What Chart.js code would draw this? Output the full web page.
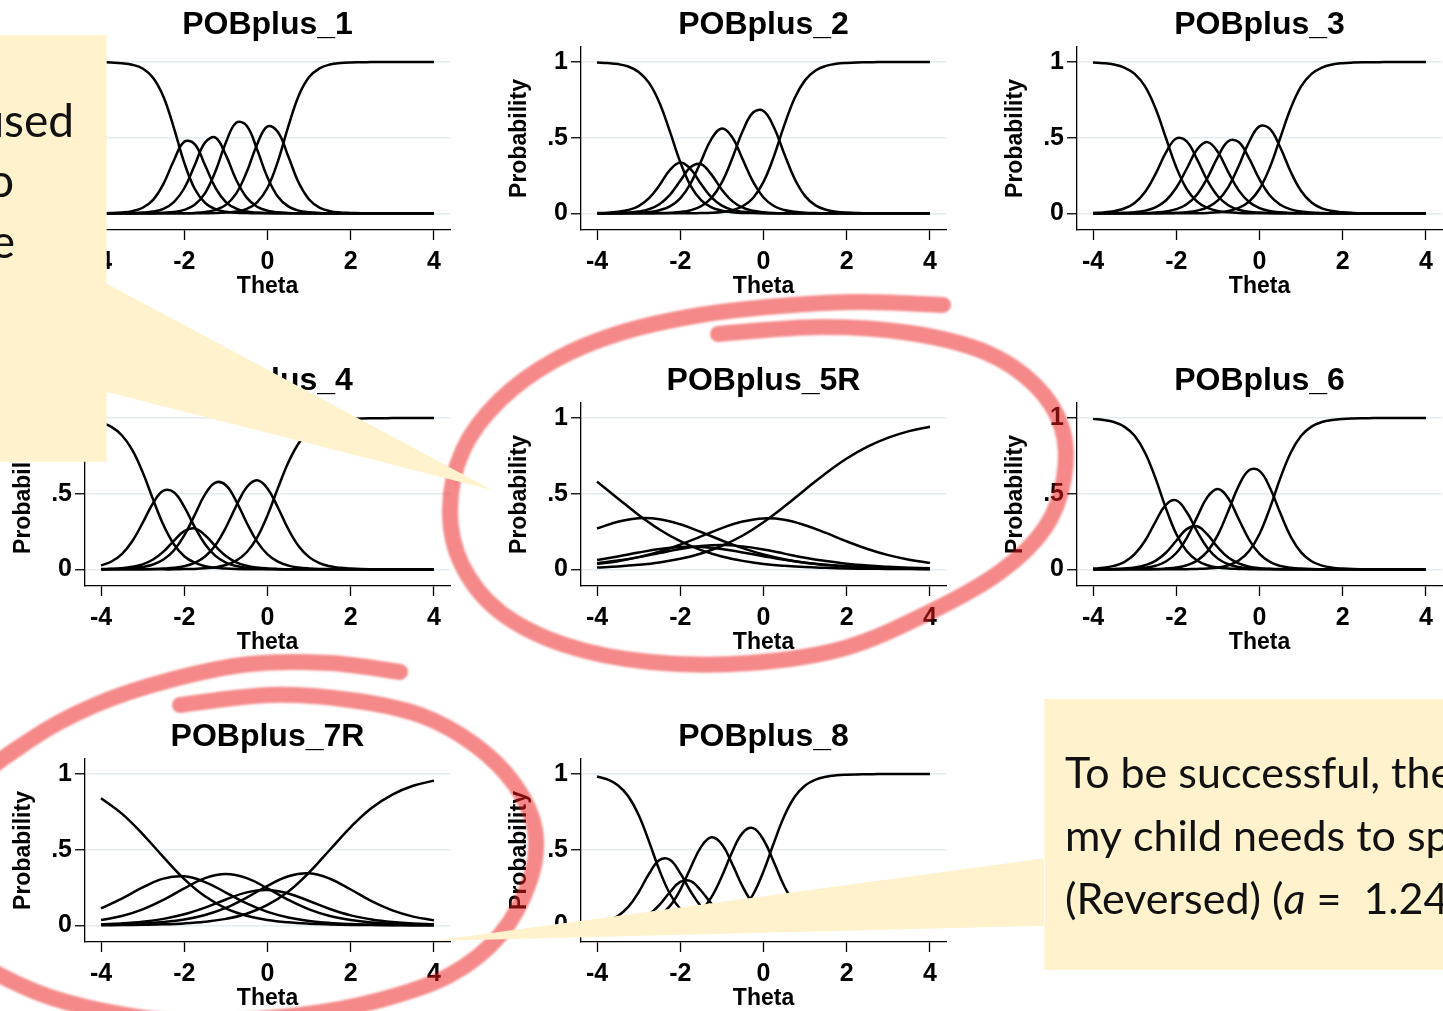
<!DOCTYPE html>
<html>
<head>
<meta charset="utf-8">
<script src="https://cdn.jsdelivr.net/npm/chart.js@4.4.1/dist/chart.umd.min.js"></script>
<style>
  body { margin: 0; width: 1443px; height: 1011px; overflow: hidden; background: #fff; position: relative; }
  canvas.panel { position: absolute; }
  #overlay { position: absolute; left: 0; top: 0; z-index: 10; }
</style>
</head>
<body>
<canvas id="overlay" width="1443" height="1011"></canvas>
<script>
// theta grids (fine for the steep items, coarse for the flat reversed ones)
const theta = [-4, -3.75, -3.5, -3.25, -3, -2.75, -2.5, -2.25, -2, -1.75, -1.5,
               -1.25, -1, -0.75, -0.5, -0.25, 0, 0.25, 0.5, 0.75, 1, 1.25,
               1.5, 1.75, 2, 2.25, 2.5, 2.75, 3, 3.25, 3.5, 3.75, 4];
const thetaCoarse = [-4, -3.5, -3, -2.5, -2, -1.5, -1, -0.5, 0, 0.5, 1, 1.5, 2, 2.5, 3, 3.5, 4];

const xTickValues = [-4, -2, 0, 2, 4];
const yTickValues = [0, 0.5, 1];
const yTickLabels = ["0", ".5", "1"];
const panelTitles = ["POBplus_1", "POBplus_2", "POBplus_3", "POBplus_4", "POBplus_5R", "POBplus_6", "POBplus_7R", "POBplus_8"];

// POBplus_1
const pob1Cat1 = [.999,.997,.993,.983,.958,.897,.771,.566,.335,.163,.070, .028,.011,.004,.002,.001,0,0,0,0,0,0, 0,0,0,0,0,0,0,0,0,0,0];
const pob1Cat2 = [.001,.002,.006,.015,.037,.089,.195,.350,.474,.458,.318, .169,.075,.031,.012,.005,.002,.001,0,0,0,0, 0,0,0,0,0,0,0,0,0,0,0];
const pob1Cat3 = [0,0,.001,.002,.005,.012,.030,.074,.166,.318,.469, .501,.385,.221,.104,.044,.018,.007,.003,.001,0,0, 0,0,0,0,0,0,0,0,0,0,0];
const pob1Cat4 = [0,0,0,0,.001,.001,.004,.009,.023,.057,.134, .278,.468,.600,.580,.422,.237,.110,.046,.018,.007,.003, .001,0,0,0,0,0,0,0,0,0,0];
const pob1Cat5 = [0,0,0,0,0,0,0,.001,.001,.003,.009, .023,.056,.132,.273,.456,.575,.538,.376,.202,.092,.038, .015,.006,.003,.001,0,0,0,0,0,0,0];
const pob1Cat6 = [0,0,0,0,0,0,0,0,0,0,.001, .002,.005,.012,.029,.073,.169,.344,.575,.778,.901,.959, .984,.994,.998,.999,1,1,1,1,1,1,1];

// POBplus_2
const pob2Cat1 = [.998,.994,.987,.971,.935,.863,.732,.542,.339,.182,.088, .040,.018,.008,.003,.002,.001,0,0,0,0,0, 0,0,0,0,0,0,0,0,0,0,0];
const pob2Cat2 = [.002,.004,.010,.022,.048,.100,.186,.286,.337,.293,.194, .105,.051,.023,.010,.005,.002,.001,0,0,0,0, 0,0,0,0,0,0,0,0,0,0,0];
const pob2Cat3 = [0,.001,.002,.005,.012,.028,.060,.122,.215,.306,.325, .256,.156,.081,.038,.017,.008,.003,.001,.001,0,0, 0,0,0,0,0,0,0,0,0,0,0];
const pob2Cat4 = [0,0,.001,.002,.004,.009,.021,.046,.099,.198,.345, .493,.561,.503,.357,.208,.105,.049,.022,.010,.004,.002, .001,0,0,0,0,0,0,0,0,0,0];
const pob2Cat5 = [0,0,0,0,0,.001,.002,.004,.009,.021,.047, .102,.205,.364,.544,.667,.677,.569,.393,.227,.114,.053, .024,.011,.005,.002,.001,0,0,0,0,0,0];
const pob2Cat6 = [0,0,0,0,0,0,0,0,0,.001,.002, .004,.009,.021,.047,.102,.208,.377,.583,.763,.881,.945, .975,.989,.995,.998,.999,1,1,1,1,1,1];

// POBplus_3
const pob3Cat1 = [.997,.993,.984,.964,.922,.839,.695,.500,.305,.161,.078, .036,.016,.007,.003,.001,.001,0,0,0,0,0, 0,0,0,0,0,0,0,0,0,0,0];
const pob3Cat2 = [.003,.006,.014,.032,.069,.141,.259,.401,.495,.476,.357, .216,.113,.054,.024,.011,.005,.002,.001,0,0,0, 0,0,0,0,0,0,0,0,0,0,0];
const pob3Cat3 = [0,.001,.002,.004,.008,.018,.040,.085,.169,.295,.422, .471,.405,.273,.152,.075,.035,.016,.007,.003,.002,.001, 0,0,0,0,0,0,0,0,0,0,0];
const pob3Cat4 = [0,0,0,0,.001,.002,.006,.012,.028,.060,.125, .235,.374,.477,.472,.363,.224,.118,.057,.026,.012,.005, .002,.001,0,0,0,0,0,0,0,0,0];
const pob3Cat5 = [0,0,0,0,0,0,.001,.002,.004,.008,.018, .040,.086,.174,.313,.472,.575,.559,.435,.275,.148,.072, .033,.015,.007,.003,.001,.001,0,0,0,0,0];
const pob3Cat6 = [0,0,0,0,0,0,0,0,0,.001,.001, .003,.007,.016,.036,.078,.161,.305,.500,.695,.839,.922, .964,.984,.993,.997,.999,.999,1,1,1,1,1];

// POBplus_4
const pob4Cat1 = [.972,.942,.887,.790,.643,.463,.293,.166,.087,.044,.021, .010,.005,.002,.001,.001,0,0,0,0,0,0, 0,0,0,0,0,0,0,0,0,0,0];
const pob4Cat2 = [.026,.052,.101,.186,.307,.437,.520,.510,.413,.281,.166, .089,.045,.022,.011,.005,.003,.001,.001,0,0,0, 0,0,0,0,0,0,0,0,0,0,0];
const pob4Cat3 = [.002,.004,.008,.017,.033,.065,.117,.189,.253,.270,.226, .153,.089,.047,.024,.012,.006,.003,.001,.001,0,0, 0,0,0,0,0,0,0,0,0,0,0];
const pob4Cat4 = [.001,.002,.004,.008,.016,.032,.065,.125,.224,.359,.496, .574,.556,.450,.308,.183,.099,.051,.025,.012,.006,.003, .002,.001,0,0,0,0,0,0,0,0,0];
const pob4Cat5 = [0,0,0,.001,.001,.002,.005,.010,.021,.043,.085, .160,.277,.420,.543,.589,.535,.409,.266,.153,.081,.041, .020,.010,.005,.002,.001,.001,0,0,0,0,0];
const pob4Cat6 = [0,0,0,0,0,0,0,0,.002,.003,.007, .014,.029,.058,.113,.210,.357,.537,.707,.834,.913,.956, .979,.990,.995,.998,.999,.999,1,1,1,1,1];

// POBplus_5R (coarse grid)
const pob5Cat1 = [.580,.469,.360,.264,.186,.127,.085,.056,.036,.024,.015,.010,.006,.004,.003,.002,.001];
const pob5Cat2 = [.270,.315,.338,.332,.298,.247,.191,.140,.098,.067,.044,.029,.019,.012,.008,.005,.003];
const pob5Cat3 = [.062,.085,.111,.134,.148,.148,.135,.112,.087,.063,.044,.030,.020,.013,.008,.005,.004];
const pob5Cat4 = [.040,.058,.081,.108,.135,.154,.161,.152,.131,.104,.077,.055,.037,.025,.017,.011,.007];
const pob5Cat5 = [.036,.054,.081,.117,.164,.218,.273,.316,.337,.328,.292,.241,.185,.135,.094,.064,.042];
const pob5Cat6 = [.012,.019,.030,.046,.070,.105,.156,.224,.312,.415,.527,.636,.733,.811,.871,.914,.943];

// POBplus_6
const pob6Cat1 = [.995,.988,.974,.944,.883,.771,.603,.405,.234,.121,.058, .027,.012,.006,.003,.001,0,0,0,0,0,0, 0,0,0,0,0,0,0,0,0,0,0];
const pob6Cat2 = [.005,.010,.023,.048,.100,.189,.314,.427,.456,.379,.252, .141,.071,.034,.016,.007,.003,.002,.001,0,0,0, 0,0,0,0,0,0,0,0,0,0,0];
const pob6Cat3 = [.001,.001,.003,.006,.012,.027,.056,.110,.189,.266,.285, .230,.145,.078,.039,.018,.008,.004,.002,.001,0,0, 0,0,0,0,0,0,0,0,0,0,0];
const pob6Cat4 = [0,0,.001,.002,.005,.011,.024,.052,.108,.207,.345, .478,.531,.470,.333,.197,.102,.049,.023,.011,.005,.002, .001,0,0,0,0,0,0,0,0,0,0];
const pob6Cat5 = [0,0,0,0,0,.001,.002,.006,.012,.027,.058, .119,.228,.386,.552,.656,.651,.540,.372,.217,.112,.054, .025,.011,.005,.002,.001,0,0,0,0,0,0];
const pob6Cat6 = [0,0,0,0,0,0,0,0,0,.001,.003, .006,.012,.027,.058,.121,.234,.405,.603,.771,.883,.944, .974,.988,.995,.998,.999,1,1,1,1,1,1];

// POBplus_7R (coarse grid)
const pob7Cat1 = [.841,.739,.604,.451,.306,.192,.113,.064,.036,.020,.011,.006,.003,.002,.001,0,0];
const pob7Cat2 = [.113,.177,.251,.309,.324,.286,.217,.145,.089,.052,.029,.016,.009,.005,.003,.001,.001];
const pob7Cat3 = [.035,.062,.106,.169,.245,.312,.339,.312,.245,.169,.106,.062,.035,.019,.011,.006,.003];
const pob7Cat4 = [.007,.013,.024,.043,.073,.117,.171,.218,.234,.211,.161,.108,.066,.039,.022,.012,.007];
const pob7Cat5 = [.004,.007,.012,.022,.039,.069,.116,.184,.261,.325,.344,.308,.237,.160,.099,.058,.033];
const pob7Cat6 = [.001,.002,.004,.007,.013,.024,.043,.077,.135,.224,.350,.500,.650,.776,.865,.923,.957];

// POBplus_8
const pob8Cat1 = [.984,.965,.927,.854,.730,.554,.364,.209,.108,.053,.025, .012,.005,.003,.001,.001,0,0,0,0,0,0, 0,0,0,0,0,0,0,0,0,0,0];
const pob8Cat2 = [.014,.030,.062,.122,.219,.341,.432,.434,.345,.224,.125, .063,.031,.014,.007,.003,.002,.001,0,0,0,0, 0,0,0,0,0,0,0,0,0,0,0];
const pob8Cat3 = [.002,.004,.008,.017,.036,.072,.135,.219,.288,.293,.229, .144,.078,.039,.019,.009,.004,.002,.001,.001,0,0, 0,0,0,0,0,0,0,0,0,0,0];
const pob8Cat4 = [.001,.001,.003,.007,.014,.031,.064,.127,.235,.381,.519, .582,.536,.405,.256,.141,.072,.034,.016,.008,.004,.002, .001,0,0,0,0,0,0,0,0,0,0];
const pob8Cat5 = [0,0,0,.001,.001,.002,.005,.011,.023,.048,.097, .187,.325,.487,.612,.643,.566,.417,.259,.142,.071,.034, .016,.008,.004,.002,.001,0,0,0,0,0,0];
const pob8Cat6 = [0,0,0,0,0,0,0,0,.001,.002,.005, .011,.024,.052,.105,.204,.357,.546,.723,.850,.925,.964, .983,.992,.996,.998,.999,1,1,1,1,1,1];

const panels = [
  { title: panelTitles[0], col: 0, row: 0, grid: theta, curves: [pob1Cat1, pob1Cat2, pob1Cat3, pob1Cat4, pob1Cat5, pob1Cat6] },
  { title: panelTitles[1], col: 1, row: 0, grid: theta, curves: [pob2Cat1, pob2Cat2, pob2Cat3, pob2Cat4, pob2Cat5, pob2Cat6] },
  { title: panelTitles[2], col: 2, row: 0, grid: theta, curves: [pob3Cat1, pob3Cat2, pob3Cat3, pob3Cat4, pob3Cat5, pob3Cat6] },
  { title: panelTitles[3], col: 0, row: 1, grid: theta, curves: [pob4Cat1, pob4Cat2, pob4Cat3, pob4Cat4, pob4Cat5, pob4Cat6] },
  { title: panelTitles[4], col: 1, row: 1, grid: thetaCoarse, curves: [pob5Cat1, pob5Cat2, pob5Cat3, pob5Cat4, pob5Cat5, pob5Cat6] },
  { title: panelTitles[5], col: 2, row: 1, grid: theta, curves: [pob6Cat1, pob6Cat2, pob6Cat3, pob6Cat4, pob6Cat5, pob6Cat6] },
  { title: panelTitles[6], col: 0, row: 2, grid: thetaCoarse, curves: [pob7Cat1, pob7Cat2, pob7Cat3, pob7Cat4, pob7Cat5, pob7Cat6] },
  { title: panelTitles[7], col: 1, row: 2, grid: theta, curves: [pob8Cat1, pob8Cat2, pob8Cat3, pob8Cat4, pob8Cat5, pob8Cat6] }
];

const FAMILY = "'Liberation Sans', Arial, sans-serif";

// title above each plot region, centred on the plot area
const panelTitlePlugin = {
  id: "panelTitle",
  afterDraw(chart, args, opts) {
    const { ctx, chartArea } = chart;
    ctx.save();
    ctx.font = "bold 32px " + FAMILY;
    ctx.fillStyle = "#000";
    ctx.textAlign = "center";
    ctx.textBaseline = "alphabetic";
    ctx.fillText(opts.text, (chartArea.left + chartArea.right) / 2, chartArea.top - 13.5);
    ctx.restore();
  }
};

function makePanel(p) {
  const canvas = document.createElement("canvas");
  canvas.className = "panel";
  canvas.width = 470;
  canvas.height = 305;
  canvas.style.left = (-5 + 496 * p.col) + "px";
  canvas.style.top = (356 * p.row) + "px";
  document.body.appendChild(canvas);

  new Chart(canvas, {
    type: "line",
    data: {
      datasets: p.curves.map(vals => ({
        data: vals.map((v, i) => ({ x: p.grid[i], y: v })),
        borderColor: "#000",
        borderWidth: 2.5,
        pointRadius: 0,
        tension: 0.4,
        fill: false
      }))
    },
    options: {
      responsive: false,
      devicePixelRatio: 1,
      animation: false,
      events: [],
      layout: { padding: { top: 47, right: 15, bottom: 0, left: 0 } },
      plugins: {
        legend: { display: false },
        tooltip: { enabled: false },
        panelTitle: { text: p.title }
      },
      scales: {
        x: {
          type: "linear",
          min: -4.385,
          max: 4.385,
          afterBuildTicks: s => { s.ticks = xTickValues.map(v => ({ value: v })); },
          afterFit: s => { s.height = 75; },
          ticks: {
            font: { family: FAMILY, size: 25, weight: "bold" },
            color: "#000",
            padding: 7,
            maxRotation: 0,
            autoSkip: false,
            callback: v => String(v)
          },
          grid: { drawOnChartArea: false, tickLength: 10, tickColor: "#000", tickWidth: 1.3 },
          border: { color: "#000", width: 1.3 },
          title: {
            display: true,
            text: "Theta",
            color: "#000",
            font: { family: FAMILY, size: 23, weight: "bold" },
            padding: { top: 0, bottom: 4.5 }
          }
        },
        y: {
          type: "linear",
          min: -0.11,
          max: 1.1,
          afterBuildTicks: s => { s.ticks = yTickValues.map(v => ({ value: v })); },
          afterFit: s => { s.width = 90; },
          ticks: {
            font: { family: FAMILY, size: 25, weight: "bold" },
            color: "#000",
            padding: 3,
            callback: v => yTickLabels[yTickValues.indexOf(v)]
          },
          grid: { color: "#e4ecef", lineWidth: 1.5, tickLength: 10, tickColor: "#000", tickWidth: 1.3 },
          border: { color: "#000", width: 1.3 },
          title: {
            display: true,
            text: "Probability",
            color: "#000",
            font: { family: FAMILY, size: 23, weight: "bold" },
            padding: { top: 15.2, bottom: 0 }
          }
        }
      }
    },
    plugins: [panelTitlePlugin]
  });
}

panels.forEach(makePanel);

// slide annotations: highlighter rings and the two callouts
const ov = document.getElementById("overlay").getContext("2d");

function smoothPath(ctx, pts) {
  ctx.moveTo(pts[0][0], pts[0][1]);
  for (let i = 0; i < pts.length - 1; i++) {
    const p0 = pts[i - 1] || pts[i], p1 = pts[i], p2 = pts[i + 1], p3 = pts[i + 2] || p2;
    ctx.bezierCurveTo(
      p1[0] + (p2[0] - p0[0]) / 6, p1[1] + (p2[1] - p0[1]) / 6,
      p2[0] - (p3[0] - p1[0]) / 6, p2[1] - (p3[1] - p1[1]) / 6,
      p2[0], p2[1]);
  }
}

const ringFive = [[943,305],[860,302],[780,306],[700,315],[620,333],[555,360],[500,400],[463,450],[450,510],
  [462,565],[500,612],[565,645],[650,662],[750,663],[845,648],[930,612],[1000,572],[1045,528],[1064,478],
  [1062,428],[1035,385],[985,352],[910,333],[820,327],[718,334]];
const ringSeven = [[400,672],[330,663],[250,664],[170,680],[95,705],[30,740],[-30,790],[-60,870],[-30,950],
  [20,985],[90,1008],[190,1022],[300,1015],[380,1000],[450,975],[500,935],[530,880],[535,830],[515,785],
  [475,745],[420,715],[350,700],[270,695],[180,705]];

ov.save();
ov.filter = "blur(1.2px)";
ov.strokeStyle = "rgba(236, 28, 28, 0.52)";
ov.lineWidth = 16;
ov.lineCap = "round";
ov.lineJoin = "round";
[ringFive, ringSeven].forEach(r => { ov.beginPath(); smoothPath(ov, r); ov.stroke(); });
ov.restore();

ov.fillStyle = "#FFF2CC";
ov.beginPath();
ov.rect(0, 35, 106.7, 426.7);
ov.moveTo(106, 283.3); ov.lineTo(492, 490); ov.lineTo(106, 391.7); ov.closePath();
ov.fill();

ov.beginPath();
ov.rect(1044.3, 699, 398.7, 271);
ov.moveTo(1045, 858.3); ov.lineTo(432, 941); ov.lineTo(1045, 925.7); ov.closePath();
ov.fill();

ov.fillStyle = "#111";
ov.textBaseline = "alphabetic";
ov.font = "46px Lato, 'Open Sans', sans-serif";
ov.textAlign = "right";
ov.fillText("used", 74, 137);
ov.fillText("o", 14, 197);
ov.fillText("e", 15, 258);

ov.textAlign = "left";
ov.font = "43px Lato, 'Open Sans', sans-serif";
ov.fillText("To be successful, the", 1065, 788);
ov.fillText("my child needs to sp", 1065, 851);
let tx = 1065;
ov.fillText("(Reversed) (", tx, 914);
tx += ov.measureText("(Reversed) (").width;
ov.font = "italic 43px Lato, 'Open Sans', sans-serif";
ov.fillText("a", tx, 914);
tx += ov.measureText("a").width;
ov.font = "43px Lato, 'Open Sans', sans-serif";
ov.fillText(" =  1.24", tx, 914);
</script>
